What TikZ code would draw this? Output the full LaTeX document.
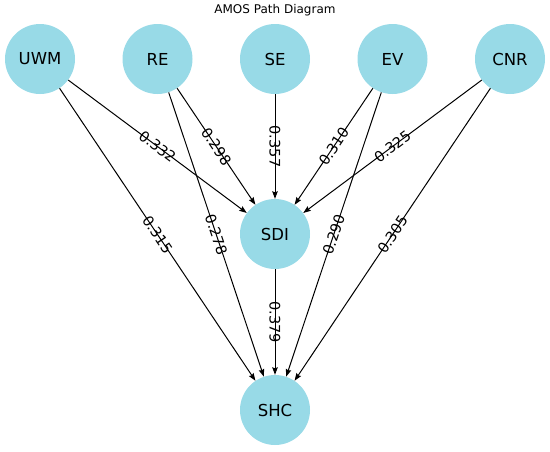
\documentclass[tikz,border=0pt]{standalone}
\usepackage{fontspec}
\setmainfont{DejaVu Sans}
\usetikzlibrary{arrows.meta}
\definecolor{varblue}{RGB}{152,218,231}
\tikzstyle{var}=[shape=circle,minimum size=70pt,inner sep=0,fill=varblue,font=\fontsize{16.5}{16.5}\selectfont]
\tikzstyle{link}=[line width=1pt,-{Stealth[length=7.5pt,width=5.5pt,inset=1pt]}]
\tikzstyle{coef}=[midway,sloped,inner sep=0,font=\fontsize{14.5}{14.5}\selectfont]

\begin{document}
\begin{tikzpicture}[x=1pt,y=-1pt]
\useasboundingbox (0,0) rectangle (550,451);
\node[font=\fontsize{12}{12}\selectfont] (title) at (275,10) {AMOS Path Diagram};

\node[var] (UWM) at (40,59) {UWM};
\node[var] (RE) at (157.5,59) {RE};
\node[var] (SE) at (275,59) {SE};
\node[var] (EV) at (392.5,59) {EV};
\node[var] (CNR) at (510,59) {CNR};
\node[var] (SDI) at (275,234) {SDI};
\node[var] (SHC) at (275,410) {SHC};

\foreach \src/\val in {UWM/0.332,RE/0.298,SE/0.357,EV/0.310,CNR/0.325}
	\draw[link] (\src) -- (SDI) node[coef]{\val};
\foreach \src/\val in {UWM/0.315,RE/0.278,EV/0.290,CNR/0.305}
	\draw[link] (\src) -- (SHC) node[coef]{\val};
\draw[link] (SDI) -- (SHC) node[coef]{0.379};
\end{tikzpicture}
\end{document}
